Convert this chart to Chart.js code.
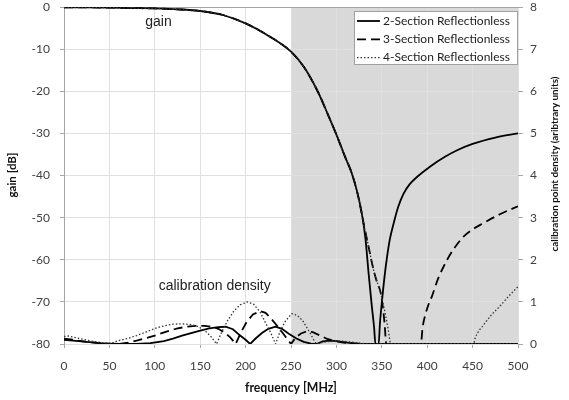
<!DOCTYPE html>
<html>
<head>
<meta charset="utf-8">
<script src="https://cdn.jsdelivr.net/npm/chart.js@4.4.0/dist/chart.umd.min.js"></script>
<style>
    html, body { margin: 0; padding: 0; background: #fff; }
</style>
</head>
<body>
<canvas id="myChart" width="569" height="400"></canvas>
<script>
// shared passband part of the gain curves (all three filters overlap here)
const passFreq = [0, 25, 50, 75, 100, 125, 150, 175, 200, 225, 250, 265, 280, 290, 300, 310, 317];
const passGain = [-0.1, -0.1, -0.15, -0.25, -0.35, -0.55, -0.95, -1.9, -3.9, -6.8, -10.6, -14.5, -20.3, -25.2, -30.3, -35.8, -39.5];

// stopband parts
const gain2Freq = [323, 328, 332, 335.5, 339, 341.5, 343, 346.5, 348, 350.3, 353, 355.8, 359, 363, 368, 374, 381, 389, 403, 420, 433, 450, 475, 500];
const gain2 = [-44, -49, -55, -63.3, -71, -76, -80, -80, -75, -69.6, -64, -59.3, -55, -51.4, -47.5, -44.3, -42, -40.3, -37.9, -35.5, -34, -32.5, -31, -30];
const gain3Freq = [323, 330, 336, 341, 345, 348.4, 351, 353, 355, 393, 395, 398, 402, 405, 412, 422, 430, 440, 450, 462, 480, 500];
const gain3 = [-44, -51.4, -57.5, -62.5, -65.5, -67.5, -71, -75, -80, -80, -76, -73, -70.3, -68.8, -64.5, -60, -57.2, -54.5, -52.8, -51.3, -49.2, -47.3];
const gain4Freq = [323, 330, 336, 341, 346, 350, 354, 357, 360, 451, 453, 456, 462, 470, 481, 490, 500];
const gain4 = [-44, -51.4, -57.5, -62.5, -66, -69, -73, -76.5, -80, -80, -78.5, -77.2, -75.5, -73.3, -70.8, -68.6, -66.4];

// calibration point density (right axis)
const dens2Freq = [0, 10, 25, 40, 50, 65, 80, 95, 110, 120, 130, 140, 150, 160, 170, 178, 186, 194, 200, 205, 211, 218, 225, 233, 240, 248, 256, 264, 272, 278, 285, 292, 300, 310, 320, 326, 500];
const dens2 = [0.10, 0.08, 0.05, 0.02, 0.01, 0, 0, 0.02, 0.07, 0.13, 0.2, 0.26, 0.32, 0.37, 0.4, 0.41, 0.35, 0.2, 0.1, 0, 0.13, 0.26, 0.36, 0.41, 0.36, 0.24, 0.13, 0.05, 0.01, 0, 0.06, 0.08, 0.07, 0.04, 0.01, 0, 0];
const dens3Freq = [0, 10, 25, 40, 50, 60, 70, 80, 90, 100, 112, 125, 135, 145, 155, 163, 170, 177, 183, 189, 195, 201, 208, 216, 222, 229, 236, 243, 250, 255, 261, 267, 274, 282, 290, 298, 306, 315, 330, 345, 500];
const dens3 = [0.13, 0.1, 0.05, 0.02, 0, 0, 0.03, 0.08, 0.14, 0.2, 0.29, 0.37, 0.41, 0.43, 0.43, 0.41, 0.36, 0.27, 0.16, 0, 0.28, 0.52, 0.7, 0.78, 0.74, 0.58, 0.4, 0.2, 0, 0.15, 0.25, 0.3, 0.28, 0.2, 0.12, 0.07, 0.04, 0.02, 0.005, 0, 0];
const dens4Freq = [0, 5, 15, 30, 45, 52, 60, 70, 80, 90, 100, 110, 120, 130, 140, 148, 155, 161, 168, 174, 180, 187, 194, 202, 209, 216, 222, 228, 233, 238, 244, 251, 257, 263, 270, 275, 278, 285, 295, 305, 315, 325, 335, 500];
const dens4 = [0.18, 0.19, 0.14, 0.07, 0.02, 0.02, 0.08, 0.13, 0.2, 0.28, 0.37, 0.43, 0.47, 0.48, 0.46, 0.41, 0.32, 0.2, 0, 0.3, 0.55, 0.78, 0.93, 1.0, 0.94, 0.76, 0.5, 0.25, 0, 0.3, 0.55, 0.72, 0.68, 0.55, 0.3, 0.1, 0, 0.04, 0.07, 0.07, 0.05, 0.02, 0, 0];

const seriesNames = ['2-Section Reflectionless', '3-Section Reflectionless', '4-Section Reflectionless'];
const shadeStart = 250;

const toPts = (xs, ys) => xs.map((x, i) => ({x: x, y: ys[i]}));

const styles = [
    {borderColor: '#000', borderWidth: 1.8, borderDash: []},
    {borderColor: '#000', borderWidth: 1.8, borderDash: [9, 5]},
    {borderColor: '#333', borderWidth: 1.3, borderDash: [1.5, 2]}
];

const gainSets = [
    toPts(passFreq.concat(gain2Freq), passGain.concat(gain2)),
    toPts(passFreq.concat(gain3Freq), passGain.concat(gain3)),
    toPts(passFreq.concat(gain4Freq), passGain.concat(gain4))
];
const densSets = [toPts(dens2Freq, dens2), toPts(dens3Freq, dens3), toPts(dens4Freq, dens4)];

const datasets = [];
// dotted first so the solid sits on top
[2, 1, 0].forEach(i => {
    datasets.push(Object.assign({label: seriesNames[i], data: gainSets[i], yAxisID: 'y',
        pointRadius: 0, cubicInterpolationMode: 'monotone', fill: false}, styles[i]));
    datasets.push(Object.assign({label: seriesNames[i] + ' density', data: densSets[i], yAxisID: 'y2',
        pointRadius: 0, tension: 0, fill: false}, styles[i]));
});

// pick a font size so the text is as wide as in the picture
function fitFont(ctx, text, weight, family, width) {
    ctx.font = weight + ' 100px ' + family;
    const w = ctx.measureText(text).width;
    const size = 100 * width / w;
    return weight + ' ' + size.toFixed(2) + 'px ' + family;
}

const shade = {
    id: 'shade',
    beforeDraw(chart) {
        const {ctx, chartArea, scales} = chart;
        const x0 = scales.x.getPixelForValue(shadeStart);
        ctx.save();
        ctx.fillStyle = '#d9d9d9';
        ctx.fillRect(x0, chartArea.top, chartArea.right - x0, chartArea.bottom - chartArea.top);
        ctx.restore();
    }
};

const notes = {
    id: 'notes',
    afterDraw(chart) {
        const {ctx, chartArea, scales} = chart;
        ctx.save();
        ctx.fillStyle = '#222';
        ctx.font = '14px "Liberation Sans", Arial, sans-serif';
        ctx.textAlign = 'center';
        ctx.textBaseline = 'middle';
        ctx.fillText('gain', scales.x.getPixelForValue(104), scales.y.getPixelForValue(-3.7));
        ctx.fillText('calibration density', scales.x.getPixelForValue(166), scales.y.getPixelForValue(-66.2));

        // axis titles
        const fam = 'Lato, sans-serif';
        ctx.fillStyle = '#111';
        ctx.font = fitFont(ctx, 'frequency [MHz]', 'bold', fam, 92);
        ctx.fillText('frequency [MHz]', (chartArea.left + chartArea.right) / 2, 388);

        ctx.save();
        ctx.translate(12, 175);
        ctx.rotate(-Math.PI / 2);
        ctx.font = fitFont(ctx, 'gain [dB]', 'bold', fam, 45);
        ctx.fillText('gain [dB]', 0, 0);
        ctx.restore();

        ctx.save();
        ctx.translate(555, 164);
        ctx.rotate(-Math.PI / 2);
        const rt = 'calibration point density (aribtrary units)';
        ctx.font = fitFont(ctx, rt, 'bold', fam, 175);
        ctx.fillText(rt, 0, 0);
        ctx.restore();
        ctx.restore();

        // legend box
        ctx.save();
        const bw = 163, bh = 53;
        const bx = chartArea.right - bw - 1, by = chartArea.top + 4;
        ctx.fillStyle = '#fff';
        ctx.fillRect(bx, by, bw, bh);
        ctx.strokeStyle = '#a0a0a0';
        ctx.lineWidth = 1;
        ctx.strokeRect(bx + 0.5, by + 0.5, bw, bh);
        ctx.font = '12px Lato, sans-serif';
        ctx.textAlign = 'left';
        ctx.textBaseline = 'middle';
        seriesNames.forEach((name, i) => {
            const yy = by + 10 + i * 18.3;
            const s = styles[i];
            ctx.strokeStyle = s.borderColor;
            ctx.lineWidth = s.borderWidth;
            ctx.setLineDash(s.borderDash);
            ctx.beginPath();
            ctx.moveTo(bx + 3, yy);
            ctx.lineTo(bx + 26, yy);
            ctx.stroke();
            ctx.setLineDash([]);
            ctx.fillStyle = '#222';
            ctx.fillText(name, bx + 29, yy);
        });
        ctx.restore();
    }
};

const tickFont = {family: 'Lato, sans-serif', size: 12};

const config = {
    type: 'line',
    data: {datasets: datasets},
    options: {
        responsive: false,
        animation: false,
        layout: {padding: {top: 7, left: 0, right: 0, bottom: 0}},
        plugins: {
            legend: {display: false},
            tooltip: {enabled: false}
        },
        scales: {
            x: {
                type: 'linear',
                min: 0,
                max: 500,
                ticks: {stepSize: 50, padding: 11, color: '#404040', font: tickFont},
                grid: {color: '#e0e0e0', drawTicks: true, tickLength: 4, tickColor: '#a6a6a6'},
                border: {display: false},
                afterFit: s => { s.height = 56; s.paddingLeft = 0; s.paddingRight = 0; }
            },
            y: {
                position: 'left',
                min: -80,
                max: 0,
                ticks: {stepSize: 10, padding: 10, color: '#404040', font: tickFont},
                grid: {
                    color: c => (c.tick && c.tick.value === 0) ? '#a6a6a6' : '#e0e0e0',
                    drawTicks: true, tickLength: 4, tickColor: '#a6a6a6'
                },
                border: {display: true, color: '#a6a6a6', width: 1},
                afterFit: s => { s.width = 64; s.paddingTop = 0; s.paddingBottom = 0; }
            },
            y2: {
                position: 'right',
                min: 0,
                max: 8,
                ticks: {stepSize: 1, padding: 7, color: '#404040', font: tickFont},
                grid: {drawOnChartArea: false, drawTicks: true, tickLength: 5, tickColor: '#a6a6a6'},
                border: {display: false},
                afterFit: s => { s.width = 51; s.paddingTop = 0; s.paddingBottom = 0; }
            }
        }
    },
    plugins: [shade, notes]
};

const ctx = document.getElementById('myChart').getContext('2d');
new Chart(ctx, config);
</script>
</body>
</html>
